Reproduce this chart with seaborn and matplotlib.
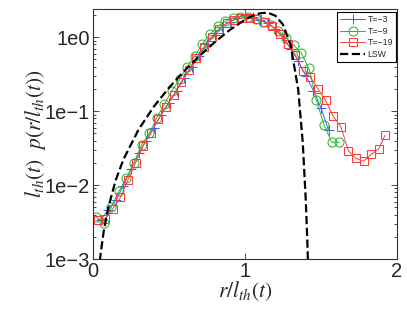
import matplotlib
matplotlib.use("Agg")
import matplotlib.pyplot as plt
import seaborn as sns

# T=-3 (blue +)
x_t3 = [0.05, 0.10, 0.15, 0.20, 0.25, 0.30, 0.35, 0.40, 0.45, 0.50, 0.55, 0.60,
        0.65, 0.70, 0.75, 0.80, 0.85, 0.90, 0.95, 1.00, 1.05, 1.10, 1.15, 1.20,
        1.25, 1.30, 1.35, 1.40, 1.45, 1.50, 1.55]
y_t3 = [0.0034, 0.0046, 0.0062, 0.0098, 0.0165, 0.027, 0.040, 0.060, 0.090, 0.13,
        0.19, 0.28, 0.40, 0.56, 0.80, 1.08, 1.38, 1.62, 1.82, 1.97, 1.87, 1.72,
        1.55, 1.28, 0.98, 0.70, 0.48, 0.30, 0.19, 0.11, 0.055]

# T=-9 (green circles)
x_t9 = [0.02, 0.07, 0.12, 0.17, 0.22, 0.27, 0.32, 0.37, 0.42, 0.47, 0.52, 0.57,
        0.62, 0.67, 0.72, 0.77, 0.82, 0.87, 0.92, 0.97, 1.02, 1.07, 1.12, 1.17,
        1.22, 1.27, 1.32, 1.37, 1.42, 1.47, 1.52, 1.57, 1.62]
y_t9 = [0.0037, 0.0031, 0.0050, 0.0082, 0.0125, 0.020, 0.035, 0.050, 0.082, 0.125,
        0.19, 0.27, 0.40, 0.56, 0.82, 1.10, 1.40, 1.65, 1.82, 1.90, 1.88, 1.78,
        1.62, 1.45, 1.22, 0.98, 0.78, 0.61, 0.38, 0.14, 0.065, 0.038, 0.038]

# T=-19 (red squares)
x_t19 = [0.03, 0.08, 0.13, 0.18, 0.23, 0.28, 0.33, 0.38, 0.43, 0.48, 0.53, 0.58,
         0.63, 0.68, 0.73, 0.78, 0.83, 0.88, 0.93, 0.98, 1.03, 1.08, 1.13, 1.18,
         1.23, 1.28, 1.33, 1.38, 1.43, 1.48, 1.53, 1.58, 1.63, 1.68, 1.73, 1.78,
         1.83, 1.88, 1.92]
y_t19 = [0.0034, 0.0035, 0.0048, 0.0068, 0.0118, 0.020, 0.034, 0.050, 0.078, 0.115,
         0.165, 0.25, 0.36, 0.52, 0.74, 1.02, 1.30, 1.55, 1.72, 1.82, 1.82, 1.76,
         1.62, 1.40, 1.12, 0.80, 0.58, 0.35, 0.29, 0.20, 0.14, 0.085, 0.062, 0.029,
         0.023, 0.021, 0.026, 0.031, 0.047]

# LSW curve
x_lsw = [0.045, 0.05, 0.07, 0.10, 0.15, 0.20, 0.30, 0.40, 0.50, 0.60, 0.70, 0.80,
         0.90, 1.00, 1.05, 1.10, 1.15, 1.20, 1.25, 1.30, 1.35, 1.38, 1.40, 1.41, 1.415]
y_lsw = [0.00094, 0.00117, 0.00234, 0.00494, 0.01175, 0.0222, 0.0565, 0.1151, 0.208,
         0.349, 0.558, 0.8545, 1.253, 1.726, 1.950, 2.111, 2.142, 1.954, 1.481,
         0.788, 0.195, 0.0373, 0.00608, 0.0017, 0.00079]

yticks = [1e-3, 1e-2, 1e-1, 1e0]
ytick_labels = ["1e\u22123", "1e\u22122", "1e\u22121", "1e0"]
xticks = [0, 1, 2]

sns.set_style("ticks")
plt.rcParams["font.family"] = ["Liberation Sans", "DejaVu Sans"]
plt.rcParams["mathtext.fontset"] = "stix"

fig = plt.figure(figsize=(4.07, 3.14), dpi=100)
ax = fig.add_axes([0.2285, 0.175, 0.747, 0.796])

colors = ["#3f5fff", "#2fb52f", "#ff3c3c"]
series = [(x_t3, y_t3, "+", 7.5, "T=\u22123"),
          (x_t9, y_t9, "o", 6.5, "T=\u22129"),
          (x_t19, y_t19, "s", 5.5, "T=\u221219")]
for (xs, ys, m, ms, lab), c in zip(series, colors):
    sns.lineplot(x=xs, y=ys, ax=ax, color=c, marker=m, markersize=ms,
                 markerfacecolor="none", markeredgecolor=c, linewidth=0.7,
                 markeredgewidth=0.75, label=lab, sort=False)
sns.lineplot(x=x_lsw, y=y_lsw, ax=ax, color="black", linestyle="--", linewidth=1.6,
             dashes=(3, 2.2), label="LSW", sort=False)

# make sure the marker edges keep the series colour
for line, c in zip(ax.lines[:3], colors):
    line.set_color(c)
    line.set_markeredgecolor(c)
    line.set_markerfacecolor("none")

ax.set_yscale("log")
ax.set_xlim(0, 2)
ax.set_ylim(1e-3, 2.4)
ax.set_xticks(xticks)
ax.set_xticklabels([str(v) for v in xticks])
ax.set_yticks(yticks)
ax.set_yticklabels(ytick_labels)
ax.tick_params(which="both", direction="in", top=True, right=True,
               labelsize=14.5, width=0.6, pad=2)
ax.tick_params(which="major", length=4)
ax.tick_params(which="minor", length=2.5)
for s in ax.spines.values():
    s.set_linewidth(0.8)
    s.set_color("#333333")

ax.set_xlabel(r"$r/l_{th}(t)$", fontsize=15.5, labelpad=-1)
ax.set_ylabel(r"$l_{th}(t)\ \ p(r/l_{th}(t))$", fontsize=15.5, labelpad=-2)

leg = ax.legend(loc="upper right", bbox_to_anchor=(0.997, 0.988), borderaxespad=0,
                fontsize=6.3, handlelength=2.8, labelspacing=0.3, borderpad=0.35,
                handletextpad=0.3, fancybox=False, framealpha=1)
leg.get_frame().set_edgecolor("black")
leg.get_frame().set_linewidth(0.8)

plt.savefig("out.png", dpi=100)
